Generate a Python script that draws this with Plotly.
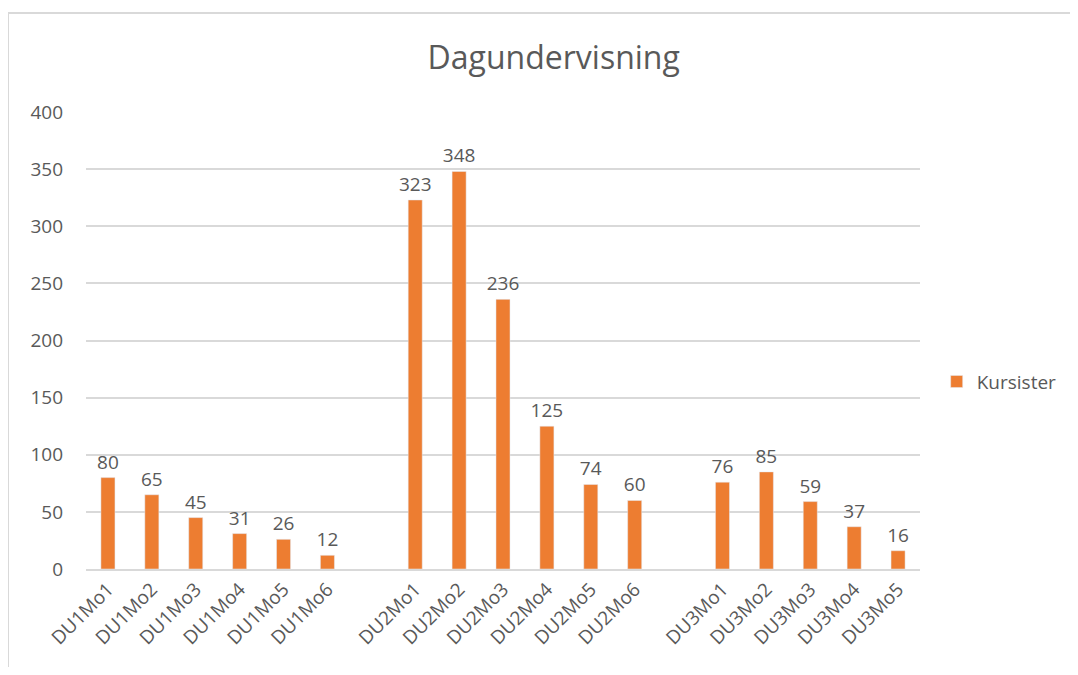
import plotly.graph_objects as go

# categories (blank entries give the gaps between the groups)
kategorier = ["DU1Mo1", "DU1Mo2", "DU1Mo3", "DU1Mo4", "DU1Mo5", "DU1Mo6", " ",
              "DU2Mo1", "DU2Mo2", "DU2Mo3", "DU2Mo4", "DU2Mo5", "DU2Mo6", "  ",
              "DU3Mo1", "DU3Mo2", "DU3Mo3", "DU3Mo4", "DU3Mo5"]
kursister = [80, 65, 45, 31, 26, 12, None,
             323, 348, 236, 125, 74, 60, None,
             76, 85, 59, 37, 16]
y_ticks = [0, 50, 100, 150, 200, 250, 300, 350, 400]

grey = "#595959"
grid = "#D9D9D9"
font = "Open Sans"

fig = go.Figure()
fig.add_trace(go.Bar(
    x=kategorier, y=kursister, name="Kursister",
    marker=dict(color="#ED7D31"),
    text=kursister, textposition="outside", cliponaxis=False,
    constraintext="none",
    textfont=dict(size=19, color=grey, family=font),
))

# page body has an 8px margin, so the figure starts at (8, 8)
fig.update_layout(
    width=1070, height=659,
    margin=dict(l=78, r=158, t=104, b=98),
    paper_bgcolor="white", plot_bgcolor="white",
    font=dict(family=font, color=grey, size=19),
    title=dict(text="Dagundervisning", x=0.51, xanchor="center", y=0.925, yanchor="middle",
               font=dict(size=32, color=grey, family=font)),
    bargap=0.68,
    showlegend=True,
    legend=dict(x=1.02, y=0.41, yanchor="middle", xanchor="left",
                font=dict(size=19, color=grey), itemwidth=30),
    shapes=[dict(type="rect", xref="paper", yref="paper",
                 x0=-0.0935, x1=1.3, y0=-0.4, y1=1.2166,
                 line=dict(color=grid, width=2), layer="below")],
)
fig.update_xaxes(type="category", tickangle=-45, showgrid=False,
                 showline=True, linecolor=grid, linewidth=1.5,
                 ticks="", tickfont=dict(size=19, color=grey))
fig.update_yaxes(range=[0, 400], tickvals=y_ticks, showgrid=True, gridcolor=grid,
                 gridwidth=1.5, zeroline=False, ticks="", ticklabelstandoff=22,
                 tickfont=dict(size=19, color=grey))

fig.write_html("out.html")
